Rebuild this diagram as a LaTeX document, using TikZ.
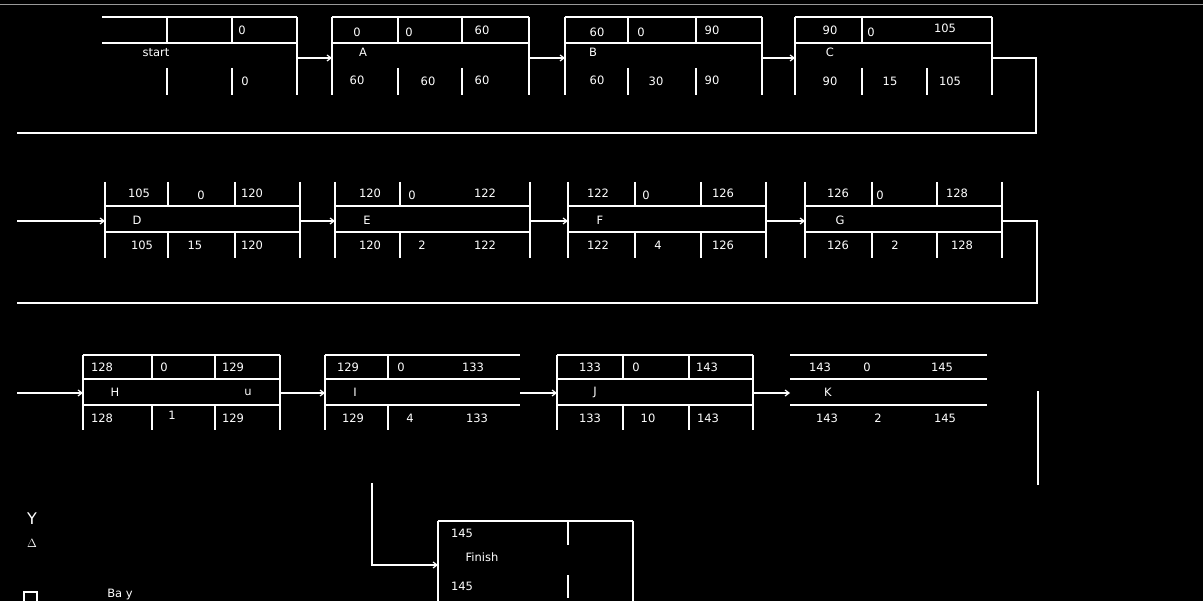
\documentclass[tikz,border=0pt]{standalone}
\usepackage{fontspec}
\setmainfont{DejaVu Sans}
\usetikzlibrary{arrows.meta}
\begin{document}
\begin{tikzpicture}[x=1pt,y=-1pt,
  ln/.style={draw=white, line width=1.2pt},
  conn/.style={draw=white, line width=1.2pt, -{Straight Barb[length=4pt,width=6pt]}},
  plain/.style={draw=white, line width=1.2pt},
  t/.style={text=white, font=\fontsize{11.5}{12}\selectfont, inner sep=0pt}]
\fill[black] (0,0) rectangle (1203,601);
\useasboundingbox (0,0) rectangle (1203,601);
\draw[gray!80, line width=1pt] (0,5) -- (1203,5);

% ---------- Row 1 ----------
% start
\draw[ln] (102,17) -- (297,17) (102,43) -- (297,43) (297,17) -- (297,95)
  (167,17) -- (167,43) (232,17) -- (232,43) (167,68) -- (167,95) (232,68) -- (232,95);
\node[t] (sT3) at (242,30) {0};
\node[t] (sM) at (156,53) {start};
\node[t] (sB3) at (245,81) {0};
% A
\draw[ln] (332,17) -- (529,17) (332,17) -- (332,95) (529,17) -- (529,95) (332,43) -- (529,43)
  (398,17) -- (398,43) (462,17) -- (462,43) (398,68) -- (398,95) (462,68) -- (462,95);
\node[t] (aT1) at (357,32) {0};
\node[t] (aT2) at (409,32) {0};
\node[t] (aT3) at (482,30) {60};
\node[t] (aM) at (363,52) {A};
\node[t] (aB1) at (357,80) {60};
\node[t] (aB2) at (428,81) {60};
\node[t] (aB3) at (482,80) {60};
% B
\draw[ln] (565,17) -- (762,17) (565,43) -- (762,43) (565,17) -- (565,95) (762,17) -- (762,95)
  (628,17) -- (628,43) (696,17) -- (696,43) (628,68) -- (628,95) (696,68) -- (696,95);
\node[t] (bT1) at (597,32) {60};
\node[t] (bT2) at (641,32) {0};
\node[t] (bT3) at (712,30) {90};
\node[t] (bM) at (593,52) {B};
\node[t] (bB1) at (597,80) {60};
\node[t] (bB2) at (656,81) {30};
\node[t] (bB3) at (712,80) {90};
% C
\draw[ln] (795,17) -- (992,17) (795,43) -- (992,43) (795,17) -- (795,95) (992,17) -- (992,95)
  (862,17) -- (862,43) (862,68) -- (862,95) (927,68) -- (927,95);
\node[t] (cT1) at (830,30) {90};
\node[t] (cT2) at (871,32) {0};
\node[t] (cT3) at (945,28) {105};
\node[t] (cM) at (830,52) {C};
\node[t] (cB1) at (830,81) {90};
\node[t] (cB2) at (890,81) {15};
\node[t] (cB3) at (950,81) {105};

\coordinate (sOut) at (297,58);
\coordinate (aIn) at (332,58);
\coordinate (aOut) at (529,58);
\coordinate (bIn) at (565,58);
\coordinate (bOut) at (762,58);
\coordinate (cIn) at (795,58);
\coordinate (cOut) at (992,58);
\coordinate (r1a) at (1036,58);
\coordinate (r1b) at (1036,133);
\coordinate (r1c) at (17,133);
\draw[conn] (sOut) -- (aIn);
\draw[conn] (aOut) -- (bIn);
\draw[conn] (bOut) -- (cIn);
\draw[plain] (cOut) -- (r1a) -- (r1b) -- (r1c);

% ---------- Row 2 ----------
% D
\draw[ln] (105,182) -- (105,258) (300,182) -- (300,258) (105,206) -- (300,206) (105,232) -- (300,232)
  (168,182) -- (168,206) (235,182) -- (235,206) (168,232) -- (168,258) (235,232) -- (235,258);
\node[t] (dT1) at (139,193) {105};
\node[t] (dT2) at (201,195) {0};
\node[t] (dT3) at (252,193) {120};
\node[t] (dM) at (137,220) {D};
\node[t] (dB1) at (142,245) {105};
\node[t] (dB2) at (195,245) {15};
\node[t] (dB3) at (252,245) {120};
% E
\draw[ln] (335,182) -- (335,258) (530,182) -- (530,258) (335,206) -- (530,206) (335,232) -- (530,232)
  (400,182) -- (400,206) (400,232) -- (400,258);
\node[t] (eT1) at (370,193) {120};
\node[t] (eT2) at (412,195) {0};
\node[t] (eT3) at (485,193) {122};
\node[t] (eM) at (367,220) {E};
\node[t] (eB1) at (370,245) {120};
\node[t] (eB2) at (422,245) {2};
\node[t] (eB3) at (485,245) {122};
% F
\draw[ln] (568,182) -- (568,258) (766,182) -- (766,258) (568,206) -- (766,206) (568,232) -- (766,232)
  (635,182) -- (635,206) (701,182) -- (701,206) (635,232) -- (635,258) (701,232) -- (701,258);
\node[t] (fT1) at (598,193) {122};
\node[t] (fT2) at (646,195) {0};
\node[t] (fT3) at (723,193) {126};
\node[t] (fM) at (600,220) {F};
\node[t] (fB1) at (598,245) {122};
\node[t] (fB2) at (658,245) {4};
\node[t] (fB3) at (723,245) {126};
% G
\draw[ln] (805,182) -- (805,258) (1002,182) -- (1002,258) (805,206) -- (1002,206) (805,232) -- (1002,232)
  (872,182) -- (872,206) (937,182) -- (937,206) (872,232) -- (872,258) (937,232) -- (937,258);
\node[t] (gT1) at (838,193) {126};
\node[t] (gT2) at (880,195) {0};
\node[t] (gT3) at (957,193) {128};
\node[t] (gM) at (840,220) {G};
\node[t] (gB1) at (838,245) {126};
\node[t] (gB2) at (895,245) {2};
\node[t] (gB3) at (962,245) {128};

\coordinate (r2in) at (17,221);
\coordinate (dIn) at (105,221);
\coordinate (dOut) at (300,221);
\coordinate (eIn) at (335,221);
\coordinate (eOut) at (530,221);
\coordinate (fIn) at (568,221);
\coordinate (fOut) at (766,221);
\coordinate (gIn) at (805,221);
\coordinate (gOut) at (1002,221);
\coordinate (r2a) at (1037,221);
\coordinate (r2b) at (1037,303);
\coordinate (r2c) at (17,303);
\draw[conn] (r2in) -- (dIn);
\draw[conn] (dOut) -- (eIn);
\draw[conn] (eOut) -- (fIn);
\draw[conn] (fOut) -- (gIn);
\draw[plain] (gOut) -- (r2a) -- (r2b) -- (r2c);

% ---------- Row 3 ----------
% H
\draw[ln] (83,355) -- (280,355) (83,379) -- (280,379) (83,405) -- (280,405)
  (83,355) -- (83,430) (280,355) -- (280,430)
  (152,355) -- (152,379) (215,355) -- (215,379) (152,405) -- (152,430) (215,405) -- (215,430);
\node[t] (hT1) at (102,367) {128};
\node[t] (hT2) at (164,367) {0};
\node[t] (hT3) at (233,367) {129};
\node[t] (hM) at (115,392) {H};
\node[t] (hM2) at (248,392) {u};
\node[t] (hB1) at (102,418) {128};
\node[t] (hB2) at (172,415) {1};
\node[t] (hB3) at (233,418) {129};
% I
\draw[ln] (325,355) -- (520,355) (325,379) -- (520,379) (325,405) -- (520,405)
  (325,355) -- (325,430)
  (388,355) -- (388,379) (388,405) -- (388,430);
\node[t] (iT1) at (348,367) {129};
\node[t] (iT2) at (401,367) {0};
\node[t] (iT3) at (473,367) {133};
\node[t] (iM) at (355,392) {I};
\node[t] (iB1) at (353,418) {129};
\node[t] (iB2) at (410,418) {4};
\node[t] (iB3) at (477,418) {133};
% J
\draw[ln] (557,355) -- (753,355) (557,379) -- (753,379) (557,405) -- (753,405)
  (557,355) -- (557,430) (753,355) -- (753,430)
  (623,355) -- (623,379) (689,355) -- (689,379) (623,405) -- (623,430) (689,405) -- (689,430);
\node[t] (jT1) at (590,367) {133};
\node[t] (jT2) at (636,367) {0};
\node[t] (jT3) at (707,367) {143};
\node[t] (jM) at (595,392) {J};
\node[t] (jB1) at (590,418) {133};
\node[t] (jB2) at (648,418) {10};
\node[t] (jB3) at (708,418) {143};
% K
\draw[ln] (790,355) -- (987,355) (790,379) -- (987,379) (790,405) -- (987,405);
\node[t] (kT1) at (820,367) {143};
\node[t] (kT2) at (867,367) {0};
\node[t] (kT3) at (942,367) {145};
\node[t] (kM) at (828,392) {K};
\node[t] (kB1) at (827,418) {143};
\node[t] (kB2) at (878,418) {2};
\node[t] (kB3) at (945,418) {145};

\coordinate (r3in) at (17,393);
\coordinate (hIn) at (83,393);
\coordinate (hOut) at (280,393);
\coordinate (iIn) at (325,393);
\coordinate (iOut) at (520,393);
\coordinate (jIn) at (557,393);
\coordinate (jOut) at (753,393);
\coordinate (kIn) at (790,393);
\coordinate (kA) at (1038,391);
\coordinate (kB) at (1038,485);
\draw[conn] (r3in) -- (hIn);
\draw[conn] (hOut) -- (iIn);
\draw[conn] (iOut) -- (jIn);
\draw[conn] (jOut) -- (kIn);
\draw[plain] (kA) -- (kB);

% ---------- Finish ----------
\draw[ln] (438,521) -- (633,521) (438,521) -- (438,601) (633,521) -- (633,601)
  (568,521) -- (568,545) (568,575) -- (568,598);
\node[t] (fnT) at (462,533) {145};
\node[t] (fnM) at (482,557) {Finish};
\node[t] (fnB) at (462,586) {145};
\coordinate (fnA) at (372,483);
\coordinate (fnB2) at (372,565);
\coordinate (fnIn) at (438,565);
\draw[conn] (fnA) -- (fnB2) -- (fnIn);

% ---------- Bottom-left marks ----------
\node[t, font=\fontsize{16}{16}\selectfont] (m1) at (32,519) {Y};
\node[t, font=\fontsize{12}{12}\selectfont] (m2) at (32,543) {$\Delta$};
\draw[white, line width=1.2pt] (24,592) rectangle (37,603);
\node[t] (m4) at (120,595) {Ba y};
\end{tikzpicture}
\end{document}
